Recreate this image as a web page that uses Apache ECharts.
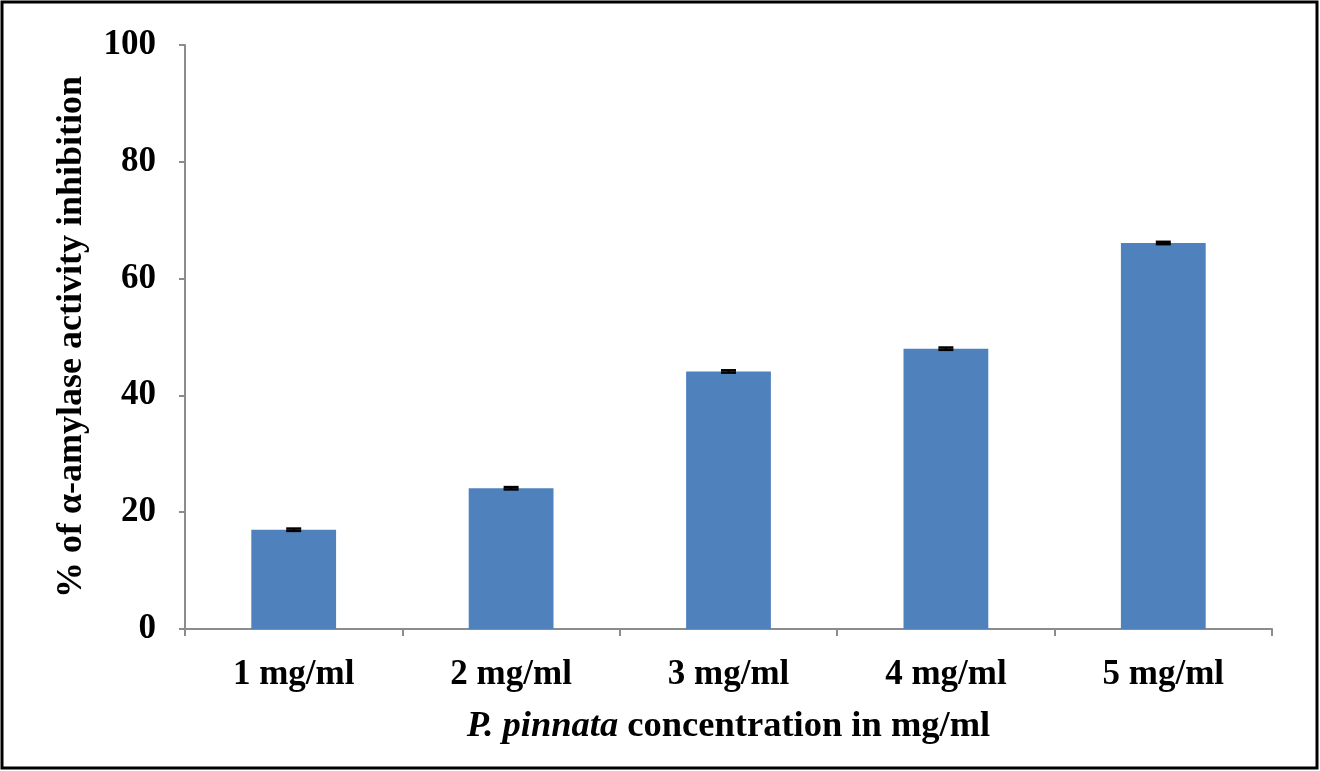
<!DOCTYPE html>
<html>
<head>
<meta charset="utf-8">
<script src="https://cdn.jsdelivr.net/npm/echarts@6/dist/echarts.min.js"></script>
<style>
  html, body { margin: 0; padding: 0; background: #fff; }
  #chart { width: 1320px; height: 771px; }
</style>
</head>
<body>
<div id="chart"></div>
<script>
// Inhibition of alpha-amylase by P. pinnata extract
const categories = ['1 mg/ml', '2 mg/ml', '3 mg/ml', '4 mg/ml', '5 mg/ml'];
const inhibition = [17, 24.1, 44.1, 48, 66.1];
const errors = [0.2, 0.2, 0.2, 0.2, 0.2];
const yTicks = [0, 20, 40, 60, 80, 100];

const FONT = '"Liberation Serif", "Times New Roman", serif';
const chart = echarts.init(document.getElementById('chart'));

chart.setOption({
  animation: false,
  backgroundColor: '#ffffff',
  graphic: [{
    type: 'rect',
    shape: { x: 2, y: 2, width: 1315, height: 766 },
    style: { fill: 'none', stroke: '#000', lineWidth: 3 },
    silent: true
  }],
  grid: { left: 185, right: 48, top: 45, bottom: 142 },
  xAxis: {
    type: 'category',
    data: categories,
    axisLine: { lineStyle: { color: '#8c8c8c', width: 2 } },
    axisTick: { show: true, inside: false, length: 7, alignWithLabel: false, lineStyle: { color: '#8c8c8c', width: 2 } },
    axisLabel: { margin: 28, color: '#000', fontFamily: FONT, fontWeight: 'bold', fontSize: 35 },
    name: '{i|P. pinnata} concentration in mg/ml',
    nameLocation: 'middle',
    nameGap: 79,
    nameTextStyle: {
      color: '#000', fontFamily: FONT, fontWeight: 'bold', fontSize: 36.5,
      rich: { i: { fontStyle: 'italic', fontWeight: 'bold', fontFamily: FONT, fontSize: 36.5, color: '#000' } }
    }
  },
  yAxis: {
    type: 'value',
    min: yTicks[0],
    max: yTicks[yTicks.length - 1],
    interval: yTicks[1] - yTicks[0],
    splitLine: { show: false },
    axisLine: { show: true, lineStyle: { color: '#8c8c8c', width: 2 } },
    axisTick: { show: true, inside: false, length: 6, lineStyle: { color: '#8c8c8c', width: 2 } },
    axisLabel: { margin: 29, color: '#000', fontFamily: FONT, fontWeight: 'bold', fontSize: 35 },
    name: '% of α-amylase activity inhibition',
    nameLocation: 'middle',
    nameGap: 95,
    nameTextStyle: { color: '#000', fontFamily: FONT, fontWeight: 'bold', fontSize: 36 }
  },
  series: [
    {
      type: 'bar',
      data: inhibition,
      barWidth: '39%',
      itemStyle: { color: '#4f81bd' }
    },
    {
      type: 'custom',
      data: inhibition.map((v, i) => [i, v - errors[i], v + errors[i]]),
      renderItem: function (params, api) {
        const x = api.value(0);
        const lo = api.coord([x, api.value(1)]);
        const hi = api.coord([x, api.value(2)]);
        const half = 7.5;
        const style = { stroke: '#000', lineWidth: 2.5 };
        return {
          type: 'group',
          children: [
            { type: 'line', shape: { x1: lo[0], y1: lo[1], x2: hi[0], y2: hi[1] }, style: style },
            { type: 'line', shape: { x1: lo[0] - half, y1: lo[1], x2: lo[0] + half, y2: lo[1] }, style: style },
            { type: 'line', shape: { x1: hi[0] - half, y1: hi[1], x2: hi[0] + half, y2: hi[1] }, style: style }
          ]
        };
      },
      z: 5
    }
  ]
});
</script>
</body>
</html>
